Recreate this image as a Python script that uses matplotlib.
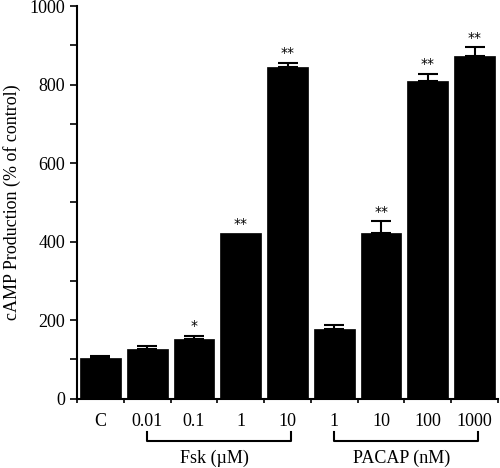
import matplotlib
matplotlib.use("Agg")
import matplotlib.pyplot as plt
import matplotlib.transforms as mtransforms
import numpy as np

labels = ["C", "0.01", "0.1", "1", "10", "1", "10", "100", "1000"]
values = [104, 127, 152, 421, 846, 178, 422, 808, 872]
errors = [4, 8, 9, 0, 10, 11, 31, 20, 24]
stars = ["", "", "*", "**", "**", "", "**", "**", "**"]
groups = [("Fsk (\u00b5M)", 1, 4), ("PACAP (nM)", 5, 8)]

plt.rcParams["font.family"] = ["Liberation Serif", "DejaVu Serif"]

fig = plt.figure(figsize=(5.0, 4.68), dpi=100)
ax = fig.add_axes([0.154, 0.148, 0.842, 0.839])

x = np.arange(len(values)) + 0.5
ax.bar(x, values, width=0.87, color="black", edgecolor="black", linewidth=0.5)

# only draw error bars where there is an error
err = np.array(errors)
has_err = err > 0
ax.errorbar(x[has_err], np.array(values)[has_err],
            yerr=[np.zeros(has_err.sum()), err[has_err]], fmt="none",
            ecolor="black", elinewidth=1.5, capsize=7, capthick=1.5)

for xi, v, e, s in zip(x, values, errors, stars):
    if s:
        ax.text(xi, v + e + 6, s, ha="center", va="bottom", fontsize=10,
                family="DejaVu Sans")

ax.set_xlim(0, len(values))
ax.set_ylim(0, 1000)
ax.set_xticks(np.arange(len(values) + 1))
ax.set_xticklabels([])
ax.set_xticks(x, minor=True)
ax.set_xticklabels(labels, minor=True)
ax.tick_params(axis="x", which="major", direction="out", length=3, width=1.2)
ax.tick_params(axis="x", which="minor", length=0, pad=10, labelsize=13)
ax.set_yticks(np.arange(0, 1001, 200))
ax.set_yticks(np.arange(100, 1000, 200), minor=True)
ax.tick_params(axis="y", which="both", direction="out", length=5, width=1.2,
               labelsize=13)
ax.spines["top"].set_visible(False)
ax.spines["right"].set_visible(False)
ax.spines["left"].set_linewidth(1.5)
ax.spines["bottom"].set_linewidth(1.5)
ax.set_ylabel("cAMP Production (% of control)", fontsize=13, labelpad=6)

trans = mtransforms.blended_transform_factory(ax.transData, ax.transAxes)
for name, i0, i1 in groups:
    x0, x1 = x[i0], x[i1] + 0.08
    ax.plot([x0, x0, x1, x1], [-0.085, -0.107, -0.107, -0.085], color="black",
            lw=1.5, transform=trans, clip_on=False)
    ax.text((x0 + x1) / 2 - 0.1, -0.13, name, ha="center", va="top",
            fontsize=13, transform=trans)

fig.savefig("out.png", dpi=100)
